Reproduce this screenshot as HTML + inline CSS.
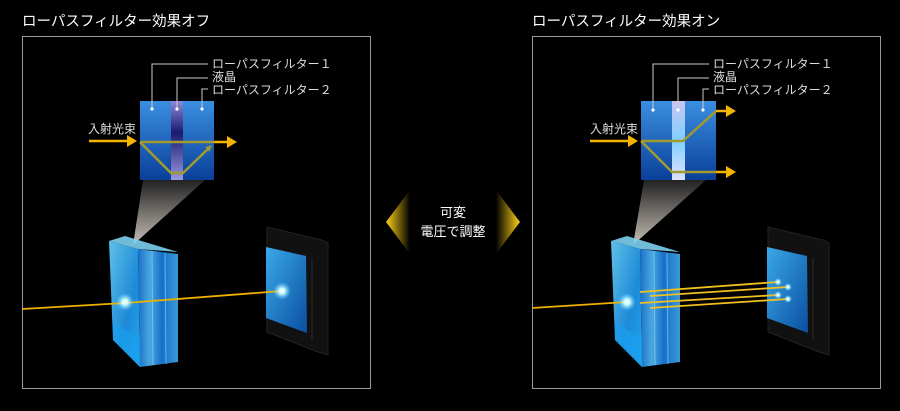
<!DOCTYPE html>
<html><head><meta charset="utf-8"><style>
html,body{margin:0;padding:0;background:#000;width:900px;height:411px;overflow:hidden}
svg text{font-family:"Liberation Sans","Noto Sans CJK JP",sans-serif}
</style></head><body>
<svg width="900" height="411" viewBox="0 0 900 411" xmlns="http://www.w3.org/2000/svg">
<defs>
<linearGradient id="sq" x1="0" y1="0" x2="0" y2="1"><stop offset="0" stop-color="#3a8fe0"/><stop offset="1" stop-color="#0a3f9a"/></linearGradient>
<linearGradient id="lc1" x1="0" y1="0" x2="0" y2="1"><stop offset="0" stop-color="#8c8ad8"/><stop offset=".4" stop-color="#1a1a70"/><stop offset="1" stop-color="#9a98e0"/></linearGradient>
<linearGradient id="lc2" x1="0" y1="0" x2="0" y2="1"><stop offset="0" stop-color="#c8c4f0"/><stop offset=".5" stop-color="#7fd0ff"/><stop offset="1" stop-color="#e0e0ff"/></linearGradient>
<linearGradient id="cone" x1="0" y1="1" x2="0" y2="0"><stop offset="0" stop-color="#c8c0b8"/><stop offset="1" stop-color="#222"/></linearGradient>
<linearGradient id="faceL" x1="0" y1="0" x2="1" y2="1"><stop offset="0" stop-color="#5fc0e8"/><stop offset=".6" stop-color="#1e8ad8"/><stop offset="1" stop-color="#20a8f0"/></linearGradient>
<linearGradient id="faceR" x1="0" y1="0" x2="1" y2="0"><stop offset="0" stop-color="#1a70c8"/><stop offset=".3" stop-color="#4aa8e0"/><stop offset=".6" stop-color="#1670c8"/><stop offset="1" stop-color="#3a9ad8"/></linearGradient>
<linearGradient id="scr" x1="0" y1="0" x2="1" y2="1"><stop offset="0" stop-color="#3aa8e8"/><stop offset="1" stop-color="#0a4fa0"/></linearGradient>
<linearGradient id="al" x1="0" y1="0" x2="1" y2="0"><stop offset="0" stop-color="#ffd21a"/><stop offset="1" stop-color="#000"/></linearGradient>
<linearGradient id="ar" x1="1" y1="0" x2="0" y2="0"><stop offset="0" stop-color="#ffd21a"/><stop offset="1" stop-color="#000"/></linearGradient>
<radialGradient id="glow"><stop offset="0" stop-color="#fff"/><stop offset=".3" stop-color="#cff"/><stop offset="1" stop-color="#6cf" stop-opacity="0"/></radialGradient>
<marker id="oa" markerWidth="6" markerHeight="6" refX="5" refY="3" orient="auto" markerUnits="userSpaceOnUse"><path d="M0,0 L6,3 L0,6Z" fill="#a09a30"/></marker>
<g id="lbl" fill="#ddd" font-size="12">
<text x="0" y="68">ローパスフィルター１</text>
<text x="0" y="81">液晶</text>
<text x="0" y="94">ローパスフィルター２</text>
</g>
<g id="prism">
<polygon points="109,241 125,236 178,252 138,249" fill="#7ccfee" opacity=".9"/>
<polygon points="109,241 138,249 140,367 113,340" fill="url(#faceL)"/>
<polygon points="138,249 178,254 178,362 140,367" fill="url(#faceR)"/>
<polygon points="113,322 140,340 140,367 113,340" fill="#1aa0f0" opacity=".7"/>
<line x1="152" y1="251" x2="153" y2="365" stroke="#9cd8f8" stroke-width="1" opacity=".6"/>
<line x1="165" y1="253" x2="166" y2="364" stroke="#9cd8f8" stroke-width="1" opacity=".6"/>
</g>
<g id="sensor">
<polygon points="267,227 322,240 328,243 328,355 318,352 267,332" fill="#111" stroke="#222"/>
<polygon points="266,247 306,256 307,333 266,318" fill="url(#scr)"/>
<line x1="312" y1="258" x2="312" y2="340" stroke="#2a2a2a"/>
</g>
</defs>

<text x="22" y="26" fill="#fff" font-size="14.5">ローパスフィルター効果オフ</text>
<text x="532" y="26" fill="#fff" font-size="14.5">ローパスフィルター効果オン</text>
<rect x="22.5" y="36.5" width="348" height="352" fill="none" stroke="#999"/>
<rect x="532.5" y="36.5" width="348" height="352" fill="none" stroke="#999"/>

<polygon points="143,180 205,180 133,245" fill="url(#cone)"/>
<rect x="140" y="101" width="74" height="79" fill="url(#sq)"/>
<rect x="171" y="101" width="12" height="79" fill="url(#lc1)"/>
<g stroke="#ccc" fill="none" stroke-width="1">
<polyline points="152,109 152,64 208,64"/><polyline points="177,109 177,78 208,78"/><polyline points="202,109 202,89 208,89"/>
</g>
<g fill="#fff"><circle cx="152" cy="109" r="1.6"/><circle cx="177" cy="109" r="1.6"/><circle cx="202" cy="109" r="1.6"/></g>
<use href="#lbl" x="212"/>
<text x="88" y="133" fill="#ddd" font-size="12">入射光束</text>
<line x1="89" y1="141" x2="128" y2="141" stroke="#f5b400" stroke-width="2.5"/><path d="M127,135 L137,141 L127,147Z" fill="#f5b400"/>
<polyline points="140,142 171,173 183,173 211,146" stroke="#a09a30" stroke-width="2.5" fill="none" marker-end="url(#oa)"/>
<line x1="140" y1="142" x2="214" y2="142" stroke="#a09a30" stroke-width="2.5"/>
<line x1="214" y1="142" x2="228" y2="142" stroke="#f5b400" stroke-width="2.5"/><path d="M227,136 L237,142 L227,148Z" fill="#f5b400"/>
<use href="#prism"/>
<use href="#sensor"/>
<polyline points="22,309 125,303 282,291" stroke="#f0b000" stroke-width="1.8" fill="none"/>
<circle cx="125" cy="302" r="9" fill="url(#glow)"/>
<circle cx="282" cy="291" r="9" fill="url(#glow)"/>

<polygon points="410,190 386,222 410,254" fill="url(#al)"/>
<polygon points="496,190 520,222 496,254" fill="url(#ar)"/>
<text x="453" y="217" fill="#fff" font-size="13" text-anchor="middle">可変</text>
<text x="453" y="236" fill="#fff" font-size="13" text-anchor="middle">電圧で調整</text>

<polygon points="644,180 706,180 633,245" fill="url(#cone)"/>
<rect x="641" y="101" width="75" height="79" fill="url(#sq)"/>
<rect x="672" y="101" width="13" height="79" fill="url(#lc2)"/>
<g stroke="#ccc" fill="none" stroke-width="1">
<polyline points="653,110 653,64 709,64"/><polyline points="678,110 678,78 709,78"/><polyline points="703,110 703,89 709,89"/>
</g>
<g fill="#fff"><circle cx="653" cy="110" r="1.6"/><circle cx="678" cy="110" r="1.6"/><circle cx="703" cy="110" r="1.6"/></g>
<use href="#lbl" x="713"/>
<text x="590" y="133" fill="#ddd" font-size="12">入射光束</text>
<line x1="590" y1="141" x2="629" y2="141" stroke="#f5b400" stroke-width="2.5"/><path d="M628,135 L638,141 L628,147Z" fill="#f5b400"/>
<polyline points="641,141 683,141 716,111" stroke="#a09a30" stroke-width="2.5" fill="none"/>
<polyline points="641,141 672,172 716,172" stroke="#a09a30" stroke-width="2.5" fill="none"/>
<line x1="716" y1="111" x2="727" y2="111" stroke="#f5b400" stroke-width="2.5"/><path d="M726,105 L736,111 L726,117Z" fill="#f5b400"/>
<line x1="716" y1="172" x2="727" y2="172" stroke="#f5b400" stroke-width="2.5"/><path d="M726,166 L736,172 L726,178Z" fill="#f5b400"/>
<use href="#prism" x="502"/>
<use href="#sensor" x="501"/>
<line x1="532" y1="308" x2="627" y2="302" stroke="#f0b000" stroke-width="1.8"/>
<g stroke="#f0c020" stroke-width="1.8">
<line x1="640" y1="292" x2="778" y2="282"/><line x1="650" y1="296" x2="788" y2="287"/>
<line x1="640" y1="303" x2="778" y2="295"/><line x1="650" y1="308" x2="788" y2="299"/>
</g>
<circle cx="627" cy="302" r="9" fill="url(#glow)"/>
<circle cx="778" cy="282" r="4" fill="url(#glow)"/><circle cx="788" cy="287" r="4" fill="url(#glow)"/>
<circle cx="778" cy="295" r="4" fill="url(#glow)"/><circle cx="788" cy="299" r="4" fill="url(#glow)"/>
</svg>
</body></html>
